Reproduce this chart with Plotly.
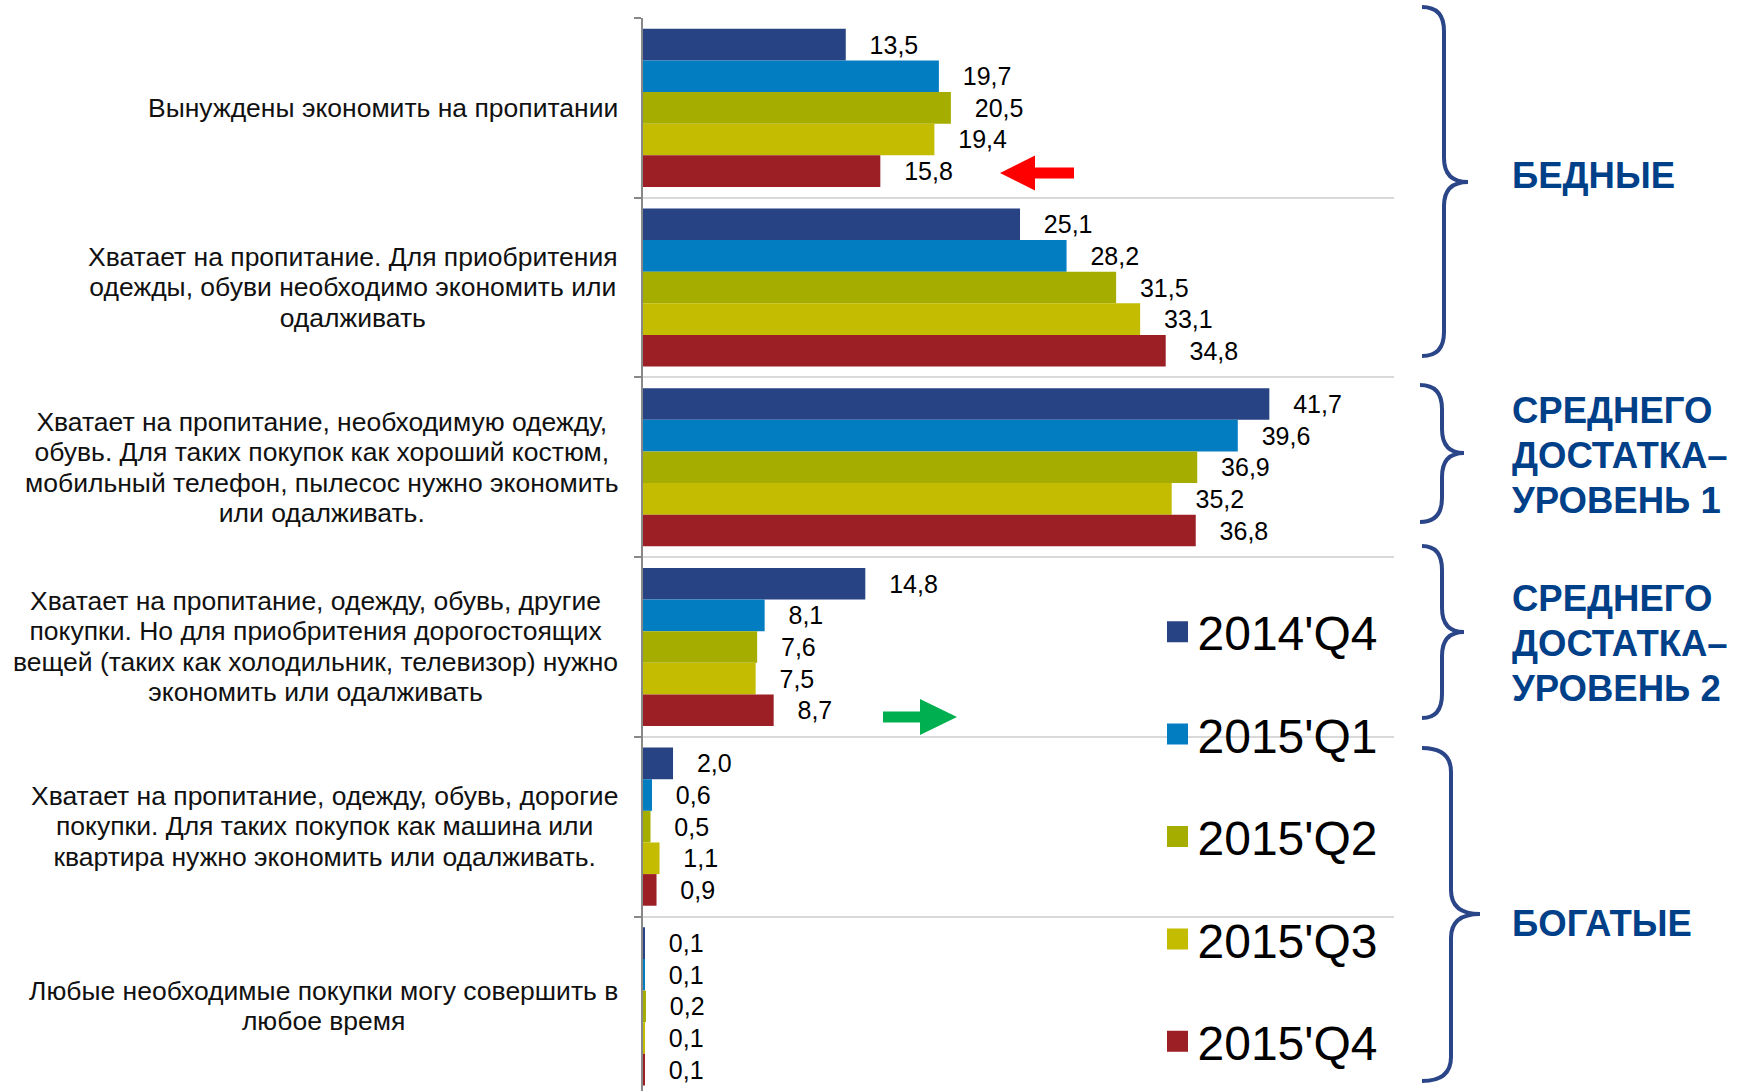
import plotly.graph_objects as go

# Data
categories = [
    "Вынуждены экономить на пропитании",
    "Хватает на пропитание. Для приобритения<br>одежды, обуви необходимо экономить или<br>одалживать",
    "Хватает на пропитание, необходимую одежду,<br>обувь. Для таких покупок как хороший костюм,<br>мобильный телефон, пылесос нужно экономить<br>или одалживать.",
    "Хватает на пропитание, одежду, обувь, другие<br>покупки. Но для приобритения дорогостоящих<br>вещей (таких как холодильник, телевизор) нужно<br>экономить или одалживать",
    "Хватает на пропитание, одежду, обувь, дорогие<br>покупки. Для таких покупок как машина или<br>квартира нужно экономить или одалживать.",
    "Любые необходимые покупки могу совершить в<br>любое время",
]
periods = ["2014'Q4", "2015'Q1", "2015'Q2", "2015'Q3", "2015'Q4"]
q4_2014 = [13.5, 25.1, 41.7, 14.8, 2.0, 0.1]
q1_2015 = [19.7, 28.2, 39.6, 8.1, 0.6, 0.1]
q2_2015 = [20.5, 31.5, 36.9, 7.6, 0.5, 0.2]
q3_2015 = [19.4, 33.1, 35.2, 7.5, 1.1, 0.1]
q4_2015 = [15.8, 34.8, 36.8, 8.7, 0.9, 0.1]
series = [q4_2014, q1_2015, q2_2015, q3_2015, q4_2015]
colors = ["#274384", "#037DC2", "#A5AE00", "#C3BC00", "#9B1F24"]

groups = ["БЕДНЫЕ", "СРЕДНЕГО<br>ДОСТАТКА–<br>УРОВЕНЬ 1",
          "СРЕДНЕГО<br>ДОСТАТКА–<br>УРОВЕНЬ 2", "БОГАТЫЕ"]

W, H = 1745, 1091
PL, PT, PW, PH = 643, 18, 751, 1073
FONT = "Liberation Sans, Arial, sans-serif"


def px(x):
    return (x - PL) / PW


def py(y):
    return 1 - (y - PT) / PH


def sized(text, size, bold=False):
    # bigger glyphs than the base font, keeping the base line spacing
    lines = text.split("<br>")
    if bold:
        lines = [f"<b>{ln}</b>" for ln in lines]
    return "<br>".join(f'<span style="font-size:{size}px">{ln}</span>' for ln in lines)


fig = go.Figure()
for name, vals, col in zip(periods, series, colors):
    fig.add_trace(go.Bar(
        y=categories, x=vals, orientation="h", name=name,
        marker=dict(color=col, line=dict(width=0)),
        texttemplate="\u00a0\u00a0\u00a0%{x:.1f}", textposition="outside",
        textfont=dict(size=25, color="black", family=FONT),
        constraintext="none", cliponaxis=False, showlegend=False,
    ))
    # legend-only marker with a larger square
    fig.add_trace(go.Scatter(
        x=[None], y=[None], mode="markers", name=name, legendgroup=name,
        marker=dict(symbol="square", size=16, color=col,
                    line=dict(color=col, width=5)),
    ))

# category labels on the left
annotations = []
for cat in categories:
    annotations.append(dict(
        xref="paper", yref="y", x=px(620), y=cat, text=sized(cat, 26.5),
        xanchor="right", yanchor="middle", align="center", showarrow=False,
        font=dict(size=23.4, color="#111", family=FONT),
    ))

# braces and group names
brace_geo = [  # x0, xs, xt, y0, ym, y1
    (1422, 1444, 1468, 7, 182, 356),
    (1420, 1442, 1464, 385, 453, 522),
    (1422, 1442, 1464, 546, 632, 718),
    (1422, 1451, 1480, 748, 914, 1081),
]
group_y = [175, 455, 643, 923]
shapes = []
for (x0, xs, xt, y0, ym, y1), g, gy in zip(brace_geo, groups, group_y):
    r = 24
    path = (f"M{px(x0)},{py(y0)} Q{px(xs)},{py(y0)} {px(xs)},{py(y0 + r)} "
            f"L{px(xs)},{py(ym - r)} Q{px(xs)},{py(ym)} {px(xt)},{py(ym)} "
            f"Q{px(xs)},{py(ym)} {px(xs)},{py(ym + r)} "
            f"L{px(xs)},{py(y1 - r)} Q{px(xs)},{py(y1)} {px(x0)},{py(y1)}")
    shapes.append(dict(type="path", xref="paper", yref="paper", path=path,
                       line=dict(color="#2B4589", width=4)))
    annotations.append(dict(
        xref="paper", yref="paper", x=px(1510), y=py(gy), text=sized(g, 36.5, bold=True),
        xanchor="left", yanchor="middle", align="left", showarrow=False,
        font=dict(size=34.6, color="#004088", family=FONT),
    ))


def arrow(tip, base, tail, yc, half_shaft, half_head):
    pts = [(tip, yc), (base, yc - half_head), (base, yc - half_shaft),
           (tail, yc - half_shaft), (tail, yc + half_shaft),
           (base, yc + half_shaft), (base, yc + half_head)]
    return "M" + " L".join(f"{px(a)},{py(b)}" for a, b in pts) + " Z"


shapes.append(dict(type="path", xref="paper", yref="paper",
                   path=arrow(1000, 1035, 1074, 173, 5.5, 17.5),
                   fillcolor="#FF0000", line=dict(width=0)))
shapes.append(dict(type="path", xref="paper", yref="paper",
                   path=arrow(957, 920, 883, 717, 5.5, 18),
                   fillcolor="#00B050", line=dict(width=0)))

fig.update_layout(
    width=W, height=H,
    margin=dict(l=PL, r=W - PL - PW, t=PT, b=0),
    plot_bgcolor="white", paper_bgcolor="white",
    barmode="group", bargap=0.12, bargroupgap=0,
    separators=", ",
    font=dict(family=FONT, color="black"),
    xaxis=dict(range=[0, 50], visible=False),
    yaxis=dict(
        range=[5.471, -0.5], tickson="boundaries",
        showticklabels=False, ticks="outside", ticklen=7, tickwidth=2,
        tickcolor="#888", showline=True, linecolor="#888", linewidth=2,
        showgrid=True, gridcolor="#D9D9D9", gridwidth=2, zeroline=False,
    ),
    legend=dict(
        x=px(1157.5), y=py(594), xanchor="left", yanchor="top",
        traceorder="grouped", tracegroupgap=37, itemsizing="trace",
        font=dict(size=48, color="black", family=FONT),
        bgcolor="rgba(0,0,0,0)",
    ),
    annotations=annotations, shapes=shapes,
)

fig.write_html("out.html", config={"displayModeBar": False},
               post_script="document.body.style.margin='0';")
